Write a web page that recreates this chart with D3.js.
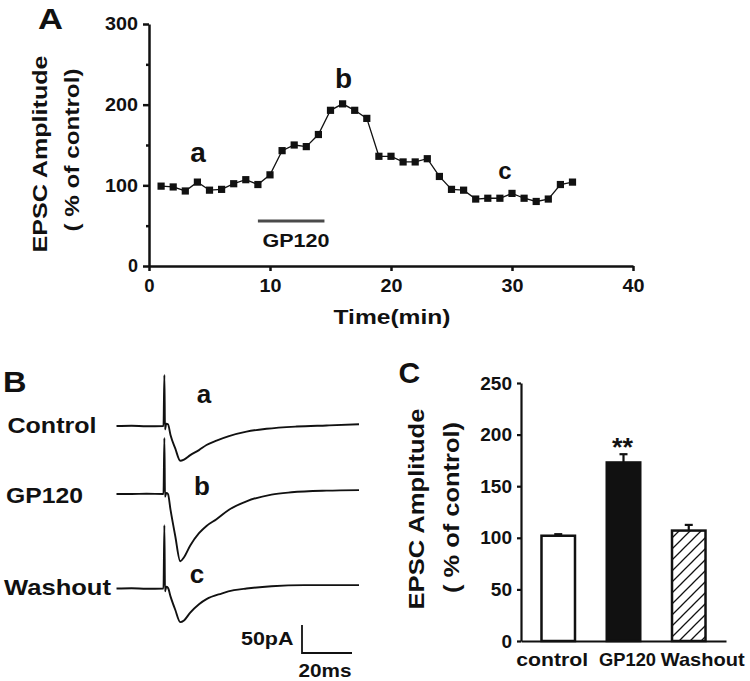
<!DOCTYPE html>
<html>
<head>
<meta charset="utf-8">
<script src="https://cdn.jsdelivr.net/npm/d3@7/dist/d3.min.js"></script>
<style>
  html, body { margin: 0; padding: 0; background: #fff; }
  svg { display: block; }
  text { font-family: "Liberation Sans", Arial, sans-serif; font-weight: bold; fill: #111; }
</style>
</head>
<body>
<svg id="fig" width="750" height="681"></svg>
<script>
// ---------------- DATA ----------------
// Panel A: EPSC amplitude (% of control) over time
const timeMin = [1,2,3,4,5,6,7,8,9,10,11,12,13,14,15,16,17,18,19,20,21,22,23,24,25,26,27,28,29,30,31,32,33,34,35];
const amplitude = [99,98,93,104,94,95,102,107,101,113,143,150,148,163,193,201,193,183,136,136,129,129,133,111,95,94,83,84,84,90,84,80,83,101,104];
const gp120Window = [9, 14.5];
const xTicksA = [0,10,20,30,40];
const yTicksA = [0,100,200,300];
const yMinorA = [50,150,250];

// Panel B: example traces, [time (ms), current (pA), up = positive]
const controlTrace = [[0,0],[6,0.5],[12,-0.5],[18.8,0],[19.15,91],[19.4,-6],[19.9,4],[20.6,3],[21.6,-16],[23.5,-40],[25.5,-62],[27,-60],[29.5,-52],[33,-43],[36,-34],[40,-26],[45,-18],[52,-10],[60,-5],[72,-1],[84,1],[97,3]];
const gp120Trace = [[0,0],[6,0],[12,0.5],[18.8,0],[19.15,100],[19.4,-5],[19.9,2],[20.6,0],[21.6,-28],[23.5,-75],[25.5,-120],[27,-113],[29.5,-92],[33,-70],[36,-57],[40,-45],[45,-28],[52,-13],[62,-1],[70,3],[84,6],[97,7]];
const washoutTrace = [[0,0],[6,0.5],[12,-0.5],[18.8,0],[19.15,113],[19.4,-5],[19.9,3],[20.6,1],[21.6,-14],[23.5,-38],[25.5,-60],[27,-57],[29.5,-43],[33,-28],[36,-19],[42,-9],[47,-3],[52,0],[62,4],[75,6],[97,6]];
const traceNames = ["Control","GP120","Washout"];
const traceLetters = ["a","b","c"];
const scaleBarPA = 50, scaleBarMS = 20;

// Panel C: mean ± SEM
const conditions = ["control","GP120","Washout"];
const means = [102,173,107];
const sems = [1.5,8,5.5];
const yTicksC = [0,50,100,150,200,250];

// ---------------- DRAW ----------------
const svg = d3.select("#fig");
const defs = svg.append("defs");
defs.append("pattern").attr("id","hatch").attr("patternUnits","userSpaceOnUse")
  .attr("width",11).attr("height",11)
  .append("path").attr("d","M-3,3 L3,-3 M0,11 L11,0 M8,14 L14,8")
  .attr("stroke","#111").attr("stroke-width",1.3);

function label(g, s, x, y, size, anchor, len) {
  const t = g.append("text").attr("x", x).attr("y", y).attr("font-size", size)
    .attr("text-anchor", anchor || "start").text(s);
  if (len) t.attr("textLength", len).attr("lengthAdjust","spacingAndGlyphs");
  return t;
}
function vlabel(g, s, x, y, size, len) {
  const t = g.append("text").attr("transform", `translate(${x},${y}) rotate(-90)`)
    .attr("font-size", size).attr("text-anchor","middle").text(s);
  if (len) t.attr("textLength", len).attr("lengthAdjust","spacingAndGlyphs");
  return t;
}
function styleAxis(g, w, fs, perChar) {
  g.select(".domain").attr("stroke","#111").attr("stroke-width", w);
  g.selectAll(".tick line").attr("stroke","#111").attr("stroke-width", w);
  const t = g.selectAll(".tick text").attr("font-size", fs).attr("fill","#111")
    .attr("font-family",'"Liberation Sans", Arial, sans-serif').attr("font-weight","bold");
  if (perChar) t.each(function() {
    const n = this.textContent.length;
    if (n > 1) d3.select(this).attr("textLength", n * perChar).attr("lengthAdjust","spacingAndGlyphs");
  });
}

// ===== Panel A =====
const A = svg.append("g");
const xA = d3.scaleLinear().domain([0,40]).range([149, 633]);
const yA = d3.scaleLinear().domain([0,300]).range([266, 24]);

const yAxA = A.append("g").attr("transform","translate(149,0)")
  .call(d3.axisLeft(yA).tickValues(yTicksA).tickSize(6).tickSizeOuter(0).tickPadding(5));
styleAxis(yAxA, 2.5, 18, 11);
A.append("g").attr("transform","translate(149,0)")
  .call(d3.axisLeft(yA).tickValues(yMinorA).tickSize(3).tickFormat(""))
  .call(g => { g.select(".domain").remove(); g.selectAll("line").attr("stroke","#111").attr("stroke-width",2.5); });
const xAxA = A.append("g").attr("transform","translate(0,266)")
  .call(d3.axisBottom(xA).tickValues(xTicksA).tickSize(5).tickSizeOuter(0).tickPadding(7.5));
styleAxis(xAxA, 2.5, 18.5, 11);

A.append("path").datum(timeMin.map((t,i)=>[t, amplitude[i]]))
  .attr("fill","none").attr("stroke","#111").attr("stroke-width",1.3)
  .attr("d", d3.line().x(d=>xA(d[0])).y(d=>yA(d[1])));
A.selectAll("rect.pt").data(timeMin.map((t,i)=>[t, amplitude[i]])).join("rect")
  .attr("class","pt").attr("x", d=>xA(d[0])-3.6).attr("y", d=>yA(d[1])-3.6)
  .attr("width",7.2).attr("height",7.2).attr("fill","#111");

A.append("line").attr("x1", xA(gp120Window[0])).attr("x2", xA(gp120Window[1]))
  .attr("y1",221).attr("y2",221).attr("stroke","#4a4a4a").attr("stroke-width",2.8);
label(A, "GP120", 262.5, 246.5, 18.5, "start", 67);
label(A, "a", 198, 162, 28, "middle");
label(A, "b", 343.5, 87.5, 28, "middle");
label(A, "c", 505, 178.5, 24, "middle");
label(A, "A", 38, 29, 30, "start", 25);
label(A, "Time(min)", 392, 324, 19.5, "middle", 117);
vlabel(A, "EPSC Amplitude", 47.3, 154, 20.5, 197);
vlabel(A, "( % of control)", 79, 150, 20.5, 163);

// ===== Panel B =====
const B = svg.append("g");
const xB = d3.scaleLinear().domain([0,97]).range([116.5, 359]);
const yB = d3.scaleLinear().domain([0,50]).range([0,-28]);
const traces = [controlTrace, gp120Trace, washoutTrace];
const baseY = [426, 494, 588.5];
const traceLine = d3.line().x(d=>xB(d[0])).y(d=>yB(d[1])).curve(d3.curveMonotoneX);
traces.forEach((tr,i) => {
  B.append("path").datum(tr).attr("transform",`translate(0,${baseY[i]})`)
    .attr("fill","none").attr("stroke","#111").attr("stroke-width",1.9)
    .attr("stroke-linejoin","round").attr("d", traceLine);
});
label(B, "B", 3, 391.5, 30, "start", 23.5);
const nameBase = [433.3, 503, 595];
const nameLen = [89, 77, 107];
const nameX = [7.5, 6, 4];
traceNames.forEach((n,i)=> label(B, n, nameX[i], nameBase[i], 22.5, "start", nameLen[i]));
const letterX = [204, 202, 197], letterBase = [403, 495, 583];
traceLetters.forEach((l,i)=> label(B, l, letterX[i], letterBase[i], 26, "middle"));
// scale bar
const sbX = 302, sbY = 653;
B.append("path").attr("fill","none").attr("stroke","#111").attr("stroke-width",1.8)
  .attr("d", `M${sbX},${sbY + yB(scaleBarPA)} L${sbX},${sbY} L${sbX + xB(scaleBarMS) - xB(0)},${sbY}`);
label(B, scaleBarPA + "pA", 293.5, 645, 18.5, "end", 52.5);
label(B, scaleBarMS + "ms", 298.5, 676.5, 18.5, "start", 53);

// ===== Panel C =====
const C = svg.append("g");
const xC = d3.scaleBand().domain(conditions).range([521, 726]).paddingInner(0.4866).paddingOuter(0.314);
const yC = d3.scaleLinear().domain([0,250]).range([641, 383]);
const yAxC = C.append("g").attr("transform","translate(521,0)")
  .call(d3.axisLeft(yC).tickValues(yTicksC).tickSize(4).tickSizeOuter(0).tickPadding(5));
styleAxis(yAxC, 2.2, 19, 10.6);
const xAxC = C.append("g").attr("transform","translate(0,641)")
  .call(d3.axisBottom(xC).tickSize(0).tickSizeOuter(0).tickFormat(""));
styleAxis(xAxC, 2.2, 16);

const fills = ["#fff", "#111", "url(#hatch)"];
conditions.forEach((c,i)=>{
  const x = xC(c), w = xC.bandwidth(), cx = x + w/2;
  C.append("line").attr("x1",cx).attr("x2",cx).attr("y1",yC(means[i])).attr("y2",yC(means[i]+sems[i]))
    .attr("stroke","#111").attr("stroke-width",2.2);
  C.append("line").attr("x1",cx-4).attr("x2",cx+4).attr("y1",yC(means[i]+sems[i])).attr("y2",yC(means[i]+sems[i]))
    .attr("stroke","#111").attr("stroke-width",2.2);
  C.append("rect").attr("x",x).attr("y",yC(means[i])).attr("width",w).attr("height",yC(0)-yC(means[i]))
    .attr("fill",fills[i]).attr("stroke","#111").attr("stroke-width",2.5);
});
const catOffset = [-6, 4, 14], catLen = [72, 57, 84];
conditions.forEach((c,i)=> label(C, c, xC(c) + xC.bandwidth()/2 + catOffset[i], 666, 19, "middle", catLen[i]));
label(C, "**", xC("GP120") + xC.bandwidth()/2 - 1, 456, 26, "middle", 21);
label(C, "C", 398.5, 383.3, 30, "start", 21.7);
vlabel(C, "EPSC Amplitude", 423.5, 509, 22.5, 201);
vlabel(C, "( % of control)", 459, 507.5, 22.5, 171);
</script>
</body>
</html>
